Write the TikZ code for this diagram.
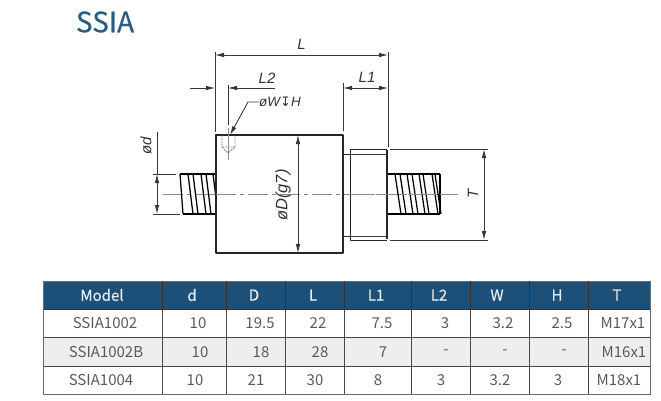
\documentclass[tikz,border=0pt]{standalone}
\usepackage{fontspec}
\setmainfont{Noto Sans CJK SC}
\newfontfamily\dimfont{Liberation Sans}
\newfontfamily\symfont{DejaVu Sans}
\usetikzlibrary{arrows.meta}
\definecolor{headblue}{HTML}{1C5078}
\definecolor{titleblue}{HTML}{2B5C86}
\definecolor{rowgray}{HTML}{EDEEEE}
\definecolor{celltext}{HTML}{5A5A5A}
\definecolor{gridline}{HTML}{4A4644}
\definecolor{dimline}{HTML}{3A3634}
\tikzset{
  cell/.style={inner sep=0pt,text=celltext,font=\fontsize{15}{17}\selectfont},
  headcell/.style={cell,text=white!88!headblue,font=\fontsize{15}{17}\selectfont\addfontfeature{FakeBold=0.4}},
  outline/.style={draw=black!85,line width=1.3pt,line join=round},
  threadline/.style={draw=black,line width=1.25pt},
  thin/.style={draw=dimline,line width=0.85pt},
  dimension/.style={thin,{Latex[length=9pt,width=4.6pt]}-{Latex[length=9pt,width=4.6pt]}},
  dimlabel/.style={inner sep=0pt,text=black!80,font=\fontsize{15}{17}\dimfont\itshape},
  axis/.style={draw=black!45,line width=0.6pt,dash pattern=on 20pt off 4pt on 4pt off 4pt},
}
\begin{document}
\begin{tikzpicture}[x=1pt,y=-1pt]
  \useasboundingbox (0,0) rectangle (661,400);
  \node [inner sep=0pt,text=titleblue,font=\fontsize{28}{30}\selectfont\addfontfeature{FakeBold=0.4}] (title) at (105,22) {SSIA};

  \draw [axis] (163,194) -- (458,194);

  % left screw
  \draw [threadline] (180,174) -- (216,174) (183,214) -- (216,214);
  \draw [threadline] (180,174) -- (183,214);
  \foreach \tx in {188,193,201,206,213}
    \draw [threadline] (\tx,174) -- (\tx+5,214);

  % right screw
  \draw [threadline] (388,174) -- (440,174) (388,214) -- (440,214);
  \foreach \tx in {395,400,407,412,419,423,432,435}
    \draw [threadline] (\tx,174) -- (\tx+6,214);
  \draw [threadline] (440,174) -- (440,214);

  % body and flange
  \draw [outline,fill=white] (216,135) rectangle (343,253);
  \draw [outline,line width=1pt] (343,154) -- (350,154) (343,236) -- (350,236);
  \draw [outline,line width=1pt] (387,149) -- (350,149) -- (350,240) -- (387,240);
  \draw [thin] (350,154) -- (386,154) (350,236) -- (386,236);
  \draw [outline,line width=1.7pt] (387,150) -- (387,239);
  \draw [axis] (216,194) -- (458,194);

  % hole
  \draw [thin,draw=black!45,dashed,dash pattern=on 2pt off 1pt] (222,135) -- (222,147) -- (228,153) -- (235,147) -- (235,135) (222,147) -- (235,147);
  \draw [thin,draw=black!45] (228,128) -- (228,160);

  % dimensions
  \draw [thin] (215,52) -- (215,132) (388,52) -- (388,147);
  \draw [dimension] (215,55) -- node [dimlabel,pos=0.5,yshift=11pt] (dimL) {L} (388,55);

  \draw [thin,-{Latex[length=9pt,width=4.6pt]}] (190,88) -- (215,88);
  \draw [thin,-{Latex[length=9pt,width=4.6pt]}] (275,88) -- (228,88);
  \draw [thin] (228,85) -- (228,125);
  \node [dimlabel] (dimLtwo) at (267,78) {L2};

  \draw [thin] (343,83) -- (343,131);
  \draw [dimension] (343,88) -- (388,88);
  \node [dimlabel] (dimLone) at (367,77) {L1};

  \node [dimlabel,font=\fontsize{13.5}{15}\dimfont\itshape] (dimW) at (280,102) {øW{\symfont\upshape\fontsize{13}{15}\selectfont ↧}H};
  \draw [thin,-{Latex[length=9pt,width=4.6pt]}] (259,102) -- (248,102) -- (230,135);

  \draw [thin] (153,174) -- (176,174) (153,214) -- (180,214) (157,132) -- (157,174);
  \draw [dimension] (157,174) -- (157,214);
  \node [dimlabel,rotate=90] (dimd) at (146,146) {ød};

  \draw [dimension] (298,135) -- (298,253);
  \node [dimlabel,rotate=90,font=\fontsize{16.5}{18}\dimfont\itshape] (dimD) at (283,195) {øD(g7)};

  \draw [thin] (390,149) -- (488,149) (390,240) -- (488,240);
  \draw [dimension] (484,149) -- (484,240);
  \node [dimlabel,rotate=90] (dimT) at (473,194) {T};

  % table
  \fill [headblue] (43,281) rectangle (650,309);
  \fill [rowgray] (43,337) rectangle (650,366);
  \draw [draw=black!80,line width=0.9pt] (43,309) -- (650,309);
  \draw [draw=gridline,line width=0.9pt] (43,337) -- (650,337) (43,366) -- (650,366);
  \draw [draw=gridline!80,line width=1pt] (43,281) rectangle (650,394);
  \foreach \cx in {162,226,285,344,411,470,529,588} {
    \draw [draw=black!80,line width=0.9pt] (\cx,281) -- (\cx,309);
    \draw [draw=gridline,line width=0.9pt] (\cx,309) -- (\cx,394);
  }

  \foreach \tx/\tt [count=\c] in {102/Model,192/d,254/D,313/L,376/L1,439/L2,497/W,557/H,617/T}
    \node [headcell] (head-\c) at (\tx,295) {\tt};
  \foreach \tx/\tt [count=\c] in {105/SSIA1002,198/10,260/19.5,318/22,382/7.5,445/3,503/3.2,562/2.5,623/M17x1}
    \node [cell] (rowa-\c) at (\tx,323) {\tt};
  \foreach \tx/\tt [count=\c] in {106/SSIA1002B,200/10,261/18,320/28,383/7,446/-,505/-,564/-,624/M16x1}
    \node [cell] (rowb-\c) at (\tx,352) {\tt};
  \foreach \tx/\tt [count=\c] in {101/SSIA1004,195/10,256/21,315/30,378/8,441/3,500/3.2,558/3,619/M18x1}
    \node [cell] (rowc-\c) at (\tx,380) {\tt};
\end{tikzpicture}
\end{document}
